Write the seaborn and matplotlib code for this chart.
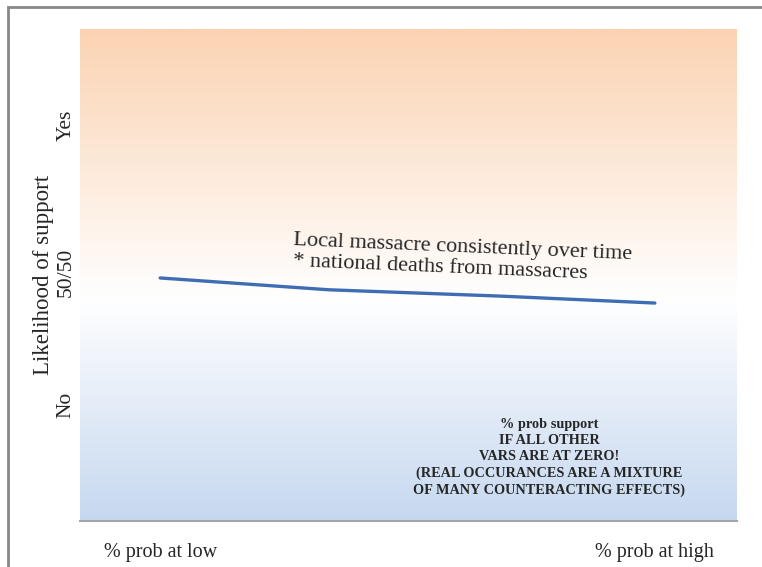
import numpy as np
import pandas as pd
import matplotlib.pyplot as plt
import matplotlib.patches as mpatches
from matplotlib.colors import LinearSegmentedColormap
import seaborn as sns

# Chart values
x_pos = [0.0, 0.34, 0.69, 1.0]          # 0 = low, 1 = high
support = [0.494, 0.470, 0.457, 0.443]  # likelihood of support (0..1 of axis)
x_ticks = [0.0, 1.0]
x_tick_labels = ['% prob at low', '% prob at high']
y_ticks = [0.236, 0.506, 0.805]
y_tick_labels = ['No', '50/50', 'Yes']
line_label = 'Local massacre consistently over time\n* national deaths from massacres'
note = ('% prob support\nIF ALL OTHER\nVARS ARE AT ZERO!\n'
        '(REAL OCCURANCES ARE A MIXTURE\nOF MANY COUNTERACTING EFFECTS)')

sns.set_theme(style="white")
plt.rcParams['font.family'] = ['Liberation Serif', 'DejaVu Serif']

fig = plt.figure(figsize=(7.62, 5.67), dpi=100)
ax = fig.add_axes([80 / 762, 1 - 521 / 567, 657 / 762, 492 / 567])

xlim = (-0.162, 1.166)
ylim = (0, 1)

# background gradient: peach at top, white in the middle, blue at the bottom
cmap = LinearSegmentedColormap.from_list(
    'bg', [(0.0, '#c6d8f0'), (0.45, '#ffffff'), (1.0, '#fbd3b2')])
grad = np.linspace(0, 1, 256).reshape(-1, 1)
ax.imshow(grad, cmap=cmap, origin='lower', aspect='auto',
          extent=[xlim[0], xlim[1], ylim[0], ylim[1]], zorder=0)

df = pd.DataFrame({'x': x_pos, 'support': support})
sns.lineplot(data=df, x='x', y='support', ax=ax, color='#3f6db3',
             linewidth=2.4, zorder=3)

ax.set_xlim(*xlim)
ax.set_ylim(*ylim)
ax.set_xticks(x_ticks)
ax.set_xticklabels(x_tick_labels, fontsize=14.5)
ax.set_yticks(y_ticks)
ax.set_yticklabels(y_tick_labels, fontsize=15.5, rotation=90, va='center')
ax.tick_params(axis='x', pad=16, length=0)
ax.tick_params(axis='y', pad=3, length=0)
ax.set_xlabel('')
ax.set_ylabel('Likelihood of support', fontsize=16.5, labelpad=2)

for side in ['top', 'right', 'left']:
    ax.spines[side].set_visible(False)
ax.spines['bottom'].set_color('#a6a6a6')
ax.spines['bottom'].set_linewidth(1.5)

# slanted label next to the line and the bold note
ax.text(0.269, 0.548, line_label, fontsize=16, rotation=-2.4,
        rotation_mode='anchor', ha='left', va='center', linespacing=1.15)
ax.text(0.786, 0.13, note, fontsize=10.3, fontweight='bold', ha='center',
        va='center', linespacing=1.32)

# outer frame
fig.patches.append(mpatches.Rectangle((8 / 762, -0.1), 1.2, 1 - 7 / 567 + 0.1,
                                      transform=fig.transFigure, fill=False,
                                      edgecolor='#888888', linewidth=2))

fig.savefig('out.png', dpi=100)
